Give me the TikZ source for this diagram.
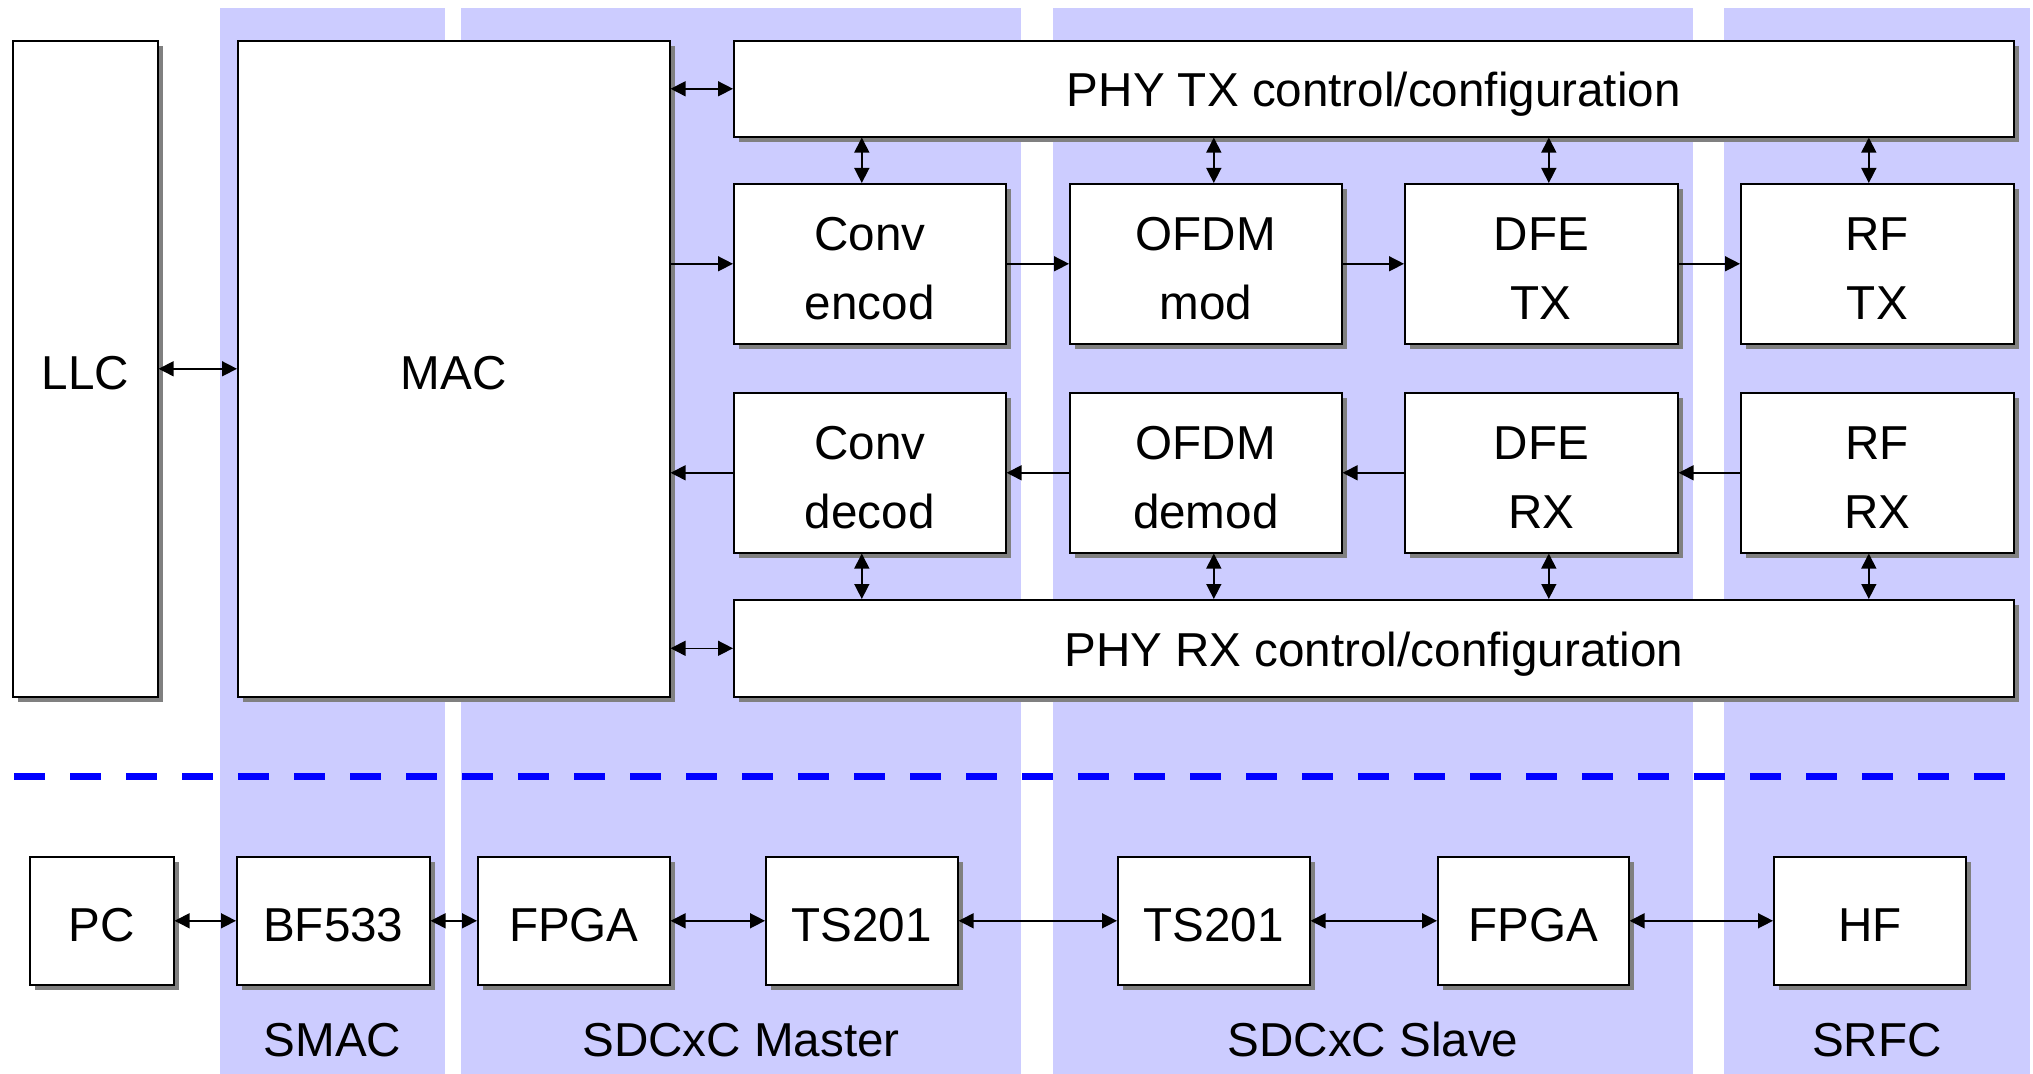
\documentclass[tikz,border=0pt]{standalone}
\usepackage{fontspec}
\setmainfont{Liberation Sans}
\usetikzlibrary{arrows.meta,shadows,calc}
\definecolor{bandc}{HTML}{CCCCFF}
\tikzset{
  txt/.style={inner sep=0pt, font=\fontsize{23.8pt}{28pt}\selectfont},
  blk/.style={draw, line width=0.8pt, fill=white, inner sep=0pt, txt,
    text height=20.5pt, text depth=0pt,
    drop shadow={shadow xshift=2.5pt, shadow yshift=-2.5pt, fill=black!50, opacity=1}},
  phy/.style={text height=18pt},
  conn/.style={line width=0.75pt, >={Triangle[length=7.5pt,width=7.5pt]}},
  band/.style={fill=bandc}
}
\newcommand\mkbox[7][]{\node[blk, #1, anchor=north west, minimum width={(#5-#3)*0.5pt}, minimum height={(#6-#4)*0.5pt}] (#2) at (#3,#4) {#7};}
\begin{document}
\begin{tikzpicture}[x=0.5pt,y=-0.5pt]
\useasboundingbox (0,0) rectangle (2033,1074);
\fill[white] (0,0) rectangle (2033,1074);
% bands
\fill[band] (220,8) rectangle (445,1074);
\fill[band] (461,8) rectangle (1021,1074);
\fill[band] (1053,8) rectangle (1693,1074);
\fill[band] (1724,8) rectangle (2030,1074);
% separator
\draw[blue, line width=3.5pt, dash pattern=on 15.5pt off 12.5pt] (14,776) -- (2005,776);
% upper boxes
\mkbox{llc}{12}{40}{157}{696}{LLC}
\mkbox{mac}{237}{40}{669}{696}{MAC}
\mkbox[phy]{ptx}{733}{40}{2013}{136}{PHY TX control/configuration}
\mkbox{ce}{733}{183}{1005}{343}{}
\mkbox{om}{1069}{183}{1341}{343}{}
\mkbox{dt}{1404}{183}{1677}{343}{}
\mkbox{rt}{1740}{183}{2013}{343}{}
\mkbox{cd}{733}{392}{1005}{552}{}
\mkbox{od}{1069}{392}{1341}{552}{}
\mkbox{dr}{1404}{392}{1677}{552}{}
\mkbox{rr}{1740}{392}{2013}{552}{}
\mkbox[phy]{prx}{733}{599}{2013}{696}{PHY RX control/configuration}
% two-line texts
\foreach \b/\l/\m in {ce/Conv/encod, om/OFDM/mod, dt/DFE/TX, rt/RF/TX,
                      cd/Conv/decod, od/OFDM/demod, dr/DFE/RX, rr/RF/RX}{
  \node[txt, anchor=base] (\b-a) at ($(\b.center)+(0,-13)$) {\l};
  \node[txt, anchor=base] (\b-b) at ($(\b.center)+(0,56)$) {\m};
}
% lower boxes
\mkbox{pc}{29}{856}{173}{984}{PC}
\mkbox{bf}{236}{856}{429}{984}{BF533}
\mkbox{fa}{477}{856}{669}{984}{FPGA}
\mkbox{ta}{765}{856}{957}{984}{TS201}
\mkbox{tb}{1117}{856}{1309}{984}{TS201}
\mkbox{fb}{1437}{856}{1628}{984}{FPGA}
\mkbox{hf}{1773}{856}{1965}{984}{HF}
% band labels
\node[txt, anchor=base] (lsmac) at (332.5,1056) {SMAC};
\node[txt, anchor=base] (lmaster) at (741,1056) {SDCxC Master};
\node[txt, anchor=base] (lslave) at (1373,1056) {SDCxC Slave};
\node[txt, anchor=base] (lsrfc) at (1877,1056) {SRFC};
% connectors
\draw[conn,<->] (llc.east) -- (mac.west);
\draw[conn,<->] (mac.east |- ptx.west) -- (ptx.west);
\draw[conn,->] (mac.east |- ce.west) -- (ce.west);
\draw[conn,<-] (mac.east |- cd.west) -- (cd.west);
\draw[conn,<->] (mac.east |- prx.west) -- (prx.west);
\draw[conn,->] (ce.east) -- (om.west);
\draw[conn,->] (om.east) -- (dt.west);
\draw[conn,->] (dt.east) -- (rt.west);
\draw[conn,->] (rr.west) -- (dr.east);
\draw[conn,->] (dr.west) -- (od.east);
\draw[conn,->] (od.west) -- (cd.east);
\coordinate (v1) at ($(ce.north)+(-8,0)$);
\coordinate (v2) at ($(om.north)+(8,0)$);
\coordinate (v3) at ($(dt.north)+(7.5,0)$);
\coordinate (v4) at ($(rt.north)+(-8.5,0)$);
\coordinate (w1) at ($(cd.south)+(-8,0)$);
\coordinate (w2) at ($(od.south)+(8,0)$);
\coordinate (w3) at ($(dr.south)+(7.5,0)$);
\coordinate (w4) at ($(rr.south)+(-8.5,0)$);
\foreach \v in {v1,v2,v3,v4}{\draw[conn,<->] (\v |- ptx.south) -- (\v);}
\foreach \w in {w1,w2,w3,w4}{\draw[conn,<->] (\w) -- (\w |- prx.north);}
\draw[conn,<->] (pc.east) -- (bf.west);
\draw[conn,<->] (bf.east) -- (fa.west);
\draw[conn,<->] (fa.east) -- (ta.west);
\draw[conn,<->] (ta.east) -- (tb.west);
\draw[conn,<->] (tb.east) -- (fb.west);
\draw[conn,<->] (fb.east) -- (hf.west);
\end{tikzpicture}
\end{document}
